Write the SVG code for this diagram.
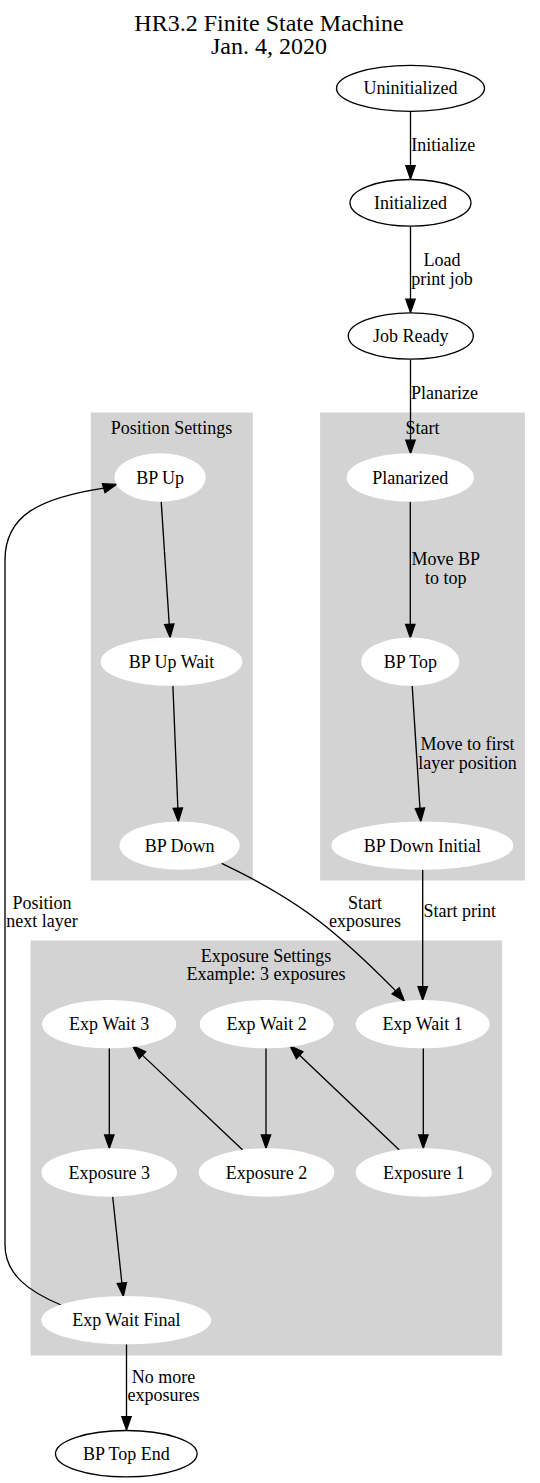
<svg xmlns="http://www.w3.org/2000/svg" width="540" height="1483" viewBox="0 0 540 1483">
<style>
text{font-family:"Liberation Serif","Times New Roman",serif;font-size:18px;fill:#000;text-anchor:middle}
.title{font-size:24px}
.cl{fill:#d3d3d3;stroke:#d3d3d3}
.nb{fill:#fff;stroke:#000;stroke-width:1.33}
.nw{fill:#fff;stroke:#fff;stroke-width:1.33}
.e{fill:none;stroke:#000;stroke-width:1.33}
.ah{fill:#000;stroke:#000;stroke-width:1.33}
</style>
<rect width="540" height="1483" fill="#fff"/>
<g id="title">
<text class="title" x="269" y="30.5">HR3.2 Finite State Machine</text>
<text class="title" x="269" y="54">Jan. 4, 2020</text>
</g>
<g id="cluster_position">
<rect class="cl" x="91.3" y="413" width="161" height="467"/>
<text x="171.5" y="434">Position Settings</text>
</g>
<g id="cluster_start">
<rect class="cl" x="320.6" y="413" width="203.8" height="467"/>
<text x="422.5" y="434">Start</text>
</g>
<g id="cluster_exposure">
<rect class="cl" x="31" y="941" width="470.7" height="414"/>
<text x="266" y="962">Exposure Settings</text>
<text x="266" y="980">Example: 3 exposures</text>
</g>
<g id="connectors">
<path class="e" d="M410.5,111.6V165.7"/><polygon class="ah" points="405.83,165.7 415.17,165.7 410.5,179"/>
<text x="443.3" y="151">Initialize</text>
<path class="e" d="M410.5,226.6V299.2"/><polygon class="ah" points="405.83,299.2 415.17,299.2 410.5,312.5"/>
<text x="442" y="266">Load</text><text x="442" y="285">print job</text>
<path class="e" d="M410.5,359.5V440.2"/><polygon class="ah" points="405.83,440.2 415.17,440.2 410.5,453.5"/>
<text x="444.5" y="399">Planarize</text>
<path class="e" d="M410.3,501.5V624.4"/><polygon class="ah" points="405.63,624.4 414.97,624.4 410.3,637.7"/>
<text x="445.7" y="565">Move BP</text><text x="445.7" y="584">to top</text>
<path class="e" d="M412.2,685.8L419.96,808.3"/><polygon class="ah" points="424.6,808 415.3,808.6 420.8,821.6"/>
<text x="467.6" y="749.5">Move to first</text><text x="467.6" y="768.5">layer position</text>
<path class="e" d="M422.7,869.6V986.7"/><polygon class="ah" points="418.03,986.7 427.37,986.7 422.7,1000"/>
<text x="459.7" y="917">Start print</text>
<path class="e" d="M161.2,501.6L169.23,624.33"/><polygon class="ah" points="173.9,624 164.6,624.6 170.1,637.6"/>
<path class="e" d="M172.9,685.8L177.86,808.21"/><polygon class="ah" points="182.5,808 173.2,808.4 178.4,821.5"/>
<path class="e" d="M221.7,863.3C265,884 305,908 335,934C360,955 380,975 395.7,990.85"/><polygon class="ah" points="399.26,987.83 392.14,993.87 404.3,1001"/>
<text x="365" y="909">Start</text><text x="365" y="927">exposures</text>
<path class="e" d="M423.3,1048.3V1135"/><polygon class="ah" points="418.63,1135 427.97,1135 423.3,1148.3"/>
<path class="e" d="M399.3,1150L299.63,1055.17"/><polygon class="ah" points="302.85,1051.79 296.41,1058.55 290,1046"/>
<path class="e" d="M266,1048.3V1135"/><polygon class="ah" points="261.33,1135 270.67,1135 266,1148.3"/>
<path class="e" d="M242.7,1150L142.36,1055.14"/><polygon class="ah" points="145.57,1051.75 139.15,1058.53 132.7,1046"/>
<path class="e" d="M109.3,1048.3V1135"/><polygon class="ah" points="104.63,1135 113.97,1135 109.3,1148.3"/>
<path class="e" d="M112.7,1196.7L121.89,1283.08"/><polygon class="ah" points="126.53,1282.59 117.25,1283.57 123.3,1296.3"/>
<path class="e" d="M61,1305C30,1292 5,1275 5,1245L5,560C5,515 40,498 103.73,488.12"/><polygon class="ah" points="105.04,492.6 102.42,483.64 116.5,484.4"/>
<text x="42" y="909">Position</text><text x="42" y="927">next layer</text>
<path class="e" d="M126.5,1344.3V1416.7"/><polygon class="ah" points="121.83,1416.7 131.17,1416.7 126.5,1430"/>
<text x="163.5" y="1383">No more</text><text x="163.5" y="1401">exposures</text>
</g>
<g id="node_uninitialized"><ellipse class="nb" cx="410.5" cy="88.3" rx="74" ry="23"/><text x="410.5" y="94.3">Uninitialized</text></g>
<g id="node_initialized"><ellipse class="nb" cx="410.5" cy="202.8" rx="60.5" ry="23.3"/><text x="410.5" y="208.8">Initialized</text></g>
<g id="node_jobready"><ellipse class="nb" cx="410.8" cy="336" rx="62.5" ry="23.2"/><text x="410.8" y="342">Job Ready</text></g>
<g id="node_planarized"><ellipse class="nw" cx="410.3" cy="477.5" rx="63" ry="23.5"/><text x="410.3" y="483.5">Planarized</text></g>
<g id="node_bptop"><ellipse class="nw" cx="410.3" cy="661.7" rx="48.3" ry="23.5"/><text x="410.3" y="667.7">BP Top</text></g>
<g id="node_bpdowninitial"><ellipse class="nw" cx="422.4" cy="845.6" rx="90.3" ry="23.5"/><text x="422.4" y="851.6">BP Down Initial</text></g>
<g id="node_bpup"><ellipse class="nw" cx="160.1" cy="477.5" rx="45" ry="23.5"/><text x="160.1" y="483.5">BP Up</text></g>
<g id="node_bpupwait"><ellipse class="nw" cx="171.5" cy="661.7" rx="70.2" ry="23.5"/><text x="171.5" y="667.7">BP Up Wait</text></g>
<g id="node_bpdown"><ellipse class="nw" cx="179.6" cy="845.6" rx="59.4" ry="23.5"/><text x="179.6" y="851.6">BP Down</text></g>
<g id="node_expwait3"><ellipse class="nw" cx="109.2" cy="1024.2" rx="66.4" ry="23.5"/><text x="109.2" y="1030.2">Exp Wait 3</text></g>
<g id="node_expwait2"><ellipse class="nw" cx="266.7" cy="1024.2" rx="66.3" ry="23.5"/><text x="266.7" y="1030.2">Exp Wait 2</text></g>
<g id="node_expwait1"><ellipse class="nw" cx="422.7" cy="1024.2" rx="66.3" ry="23.5"/><text x="422.7" y="1030.2">Exp Wait 1</text></g>
<g id="node_exposure3"><ellipse class="nw" cx="109.2" cy="1172.5" rx="67.1" ry="23.5"/><text x="109.2" y="1178.5">Exposure 3</text></g>
<g id="node_exposure2"><ellipse class="nw" cx="266.5" cy="1172.5" rx="67.1" ry="23.5"/><text x="266.5" y="1178.5">Exposure 2</text></g>
<g id="node_exposure1"><ellipse class="nw" cx="423.8" cy="1172.5" rx="67.4" ry="23.5"/><text x="423.8" y="1178.5">Exposure 1</text></g>
<g id="node_expwaitfinal"><ellipse class="nw" cx="126.3" cy="1320.2" rx="84.3" ry="23.5"/><text x="126.3" y="1326.2">Exp Wait Final</text></g>
<g id="node_bptopend"><ellipse class="nb" cx="126.3" cy="1453.7" rx="70.8" ry="23.2"/><text x="126.3" y="1459.7">BP Top End</text></g>
</svg>
